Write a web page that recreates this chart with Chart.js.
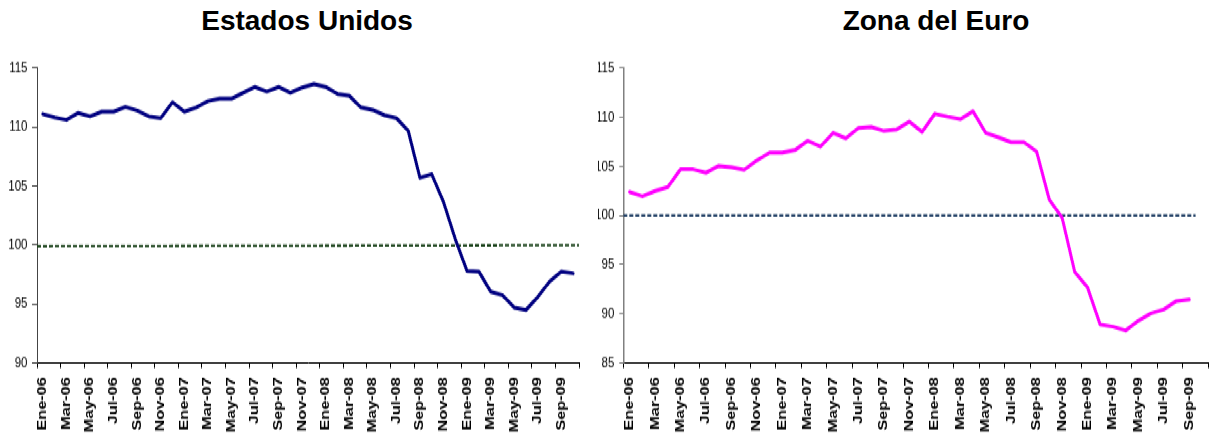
<!DOCTYPE html>
<html>
<head>
<meta charset="utf-8">
<script src="https://cdn.jsdelivr.net/npm/chart.js@4/dist/chart.umd.min.js"></script>
<style>
  html, body { margin: 0; padding: 0; background: #fff; overflow: hidden; }
  body { width: 1210px; height: 435px; position: relative; }
  .title {
    position: absolute; top: 5px; width: 400px; text-align: center;
    font: bold 28px "Liberation Sans", Arial, sans-serif; line-height: 32px; color: #000;
  }
  #stretch {
    position: absolute; left: 0; top: 45px; width: 1210px; height: 300px;
    transform: scaleY(1.3); transform-origin: 0 0;
  }
  canvas { position: absolute; top: 0; }
</style>
</head>
<body>
<div class="title" style="left:107px">Estados Unidos</div>
<div class="title" style="left:736px">Zona del Euro</div>
<div id="stretch">
  <canvas id="us" width="598" height="300" style="left:0"></canvas>
  <canvas id="eu" width="612" height="300" style="left:598px"></canvas>
</div>
<script>
// Monthly categories, Jan-2006 .. Oct-2009 (labelled every second month)
const months = ['Ene','Feb','Mar','Abr','May','Jun','Jul','Ago','Sep','Oct','Nov','Dic'];
const years = ['06','07','08','09'];
const categories = [];
years.forEach(y => months.forEach(m => categories.push(m + '-' + y)));
categories.length = 46;

// Index values
const usValues = [
  111.1, 110.8, 110.6, 111.2, 110.9, 111.3, 111.3, 111.7, 111.4, 110.9,
  110.75, 112.1, 111.3, 111.65, 112.2, 112.4, 112.4, 112.9, 113.4, 113.0,
  113.4, 112.9, 113.35, 113.65, 113.4, 112.8, 112.65, 111.65, 111.45, 111.0,
  110.75, 109.7, 105.7, 106.0, 103.65, 100.5, 97.8, 97.75, 96.05, 95.75,
  94.7, 94.5, 95.6, 96.9, 97.75, 97.6
];
const euValues = [
  102.4, 101.95, 102.5, 102.9, 104.7, 104.7, 104.35, 105.05, 104.9, 104.65,
  105.6, 106.4, 106.4, 106.65, 107.6, 107.0, 108.4, 107.85, 108.9, 109.0,
  108.6, 108.75, 109.55, 108.5, 110.35, 110.05, 109.8, 110.6, 108.4, 107.95,
  107.45, 107.45, 106.5, 101.6, 99.8, 94.25, 92.7, 88.9, 88.7, 88.3,
  89.3, 90.05, 90.45, 91.3, 91.45, null
];

// Base-100 reference lines, given as [start, end] over the category span
const usBaseStart = 0, usBaseEnd = 46;
const usBaseValues = [99.9, 100.0];
const euBaseStart = 0, euBaseEnd = 45;
const euBaseValues = [100.0, 100.0];

// Y-axis ranges
const usRange = { min: 90, max: 115, step: 5 };
const euRange = { min: 85, max: 115, step: 5 };

Chart.defaults.font.family = '"Liberation Sans", Arial, sans-serif';
Chart.defaults.color = '#000';

function makeChart(id, cfg) {
  const everyOther = ctx => (ctx.index === undefined || ctx.index % 2 === 0) ? '#000' : 'rgba(0,0,0,0)';
  return new Chart(document.getElementById(id), {
    type: 'line',
    data: {
      labels: categories,
      datasets: [
        {
          data: cfg.values,
          borderColor: cfg.color,
          borderWidth: 3,
          borderJoinStyle: 'round',
          borderCapStyle: 'round',
          pointRadius: 0,
          tension: 0,
          fill: false,
          xAxisID: 'x', yAxisID: 'y'
        },
        {
          data: [{ x: cfg.baseStart, y: cfg.baseValues[0] }, { x: cfg.baseEnd, y: cfg.baseValues[1] }],
          borderColor: cfg.baseColor,
          borderWidth: 1.8,
          borderDash: [4, 2],
          pointRadius: 0,
          fill: false,
          xAxisID: 'xr', yAxisID: 'y'
        }
      ]
    },
    options: {
      responsive: false,
      maintainAspectRatio: false,
      animation: false,
      devicePixelRatio: 1,
      layout: { padding: { top: 17.7, bottom: 0, left: 0, right: cfg.padRight } },
      plugins: { legend: { display: false }, tooltip: { enabled: false }, title: { display: false } },
      scales: {
        x: {
          type: 'category',
          offset: true,
          grid: {
            offset: true, drawOnChartArea: false, drawTicks: true, tickLength: 4,
            color: everyOther, tickColor: everyOther
          },
          border: { display: true, color: '#000', width: 1 },
          ticks: {
            autoSkip: false, minRotation: 90, maxRotation: 90, padding: 7,
            font: { size: 12.5, weight: 'bold' },
            callback: (v, i) => (i % 2 === 0 ? categories[i] : '')
          },
          afterFit: s => { s.height = 55.4; s.paddingLeft = 0; s.paddingRight = 0; }
        },
        xr: { type: 'linear', display: false, min: 0, max: 46 },
        y: {
          min: cfg.range.min, max: cfg.range.max,
          grid: { drawOnChartArea: false, drawTicks: true, tickLength: cfg.tickLen, color: cfg.axisColor },
          border: { display: true, color: cfg.axisColor, width: cfg.axisWidth },
          ticks: { stepSize: cfg.range.step, padding: cfg.tickPad, font: { size: 11.5 } },
          afterFit: s => { s.width = cfg.yWidth; s.paddingTop = 0; s.paddingBottom = 0; }
        }
      }
    }
  });
}

makeChart('us', {
  values: usValues, color: '#000080',
  baseStart: usBaseStart, baseEnd: usBaseEnd, baseValues: usBaseValues, baseColor: '#173f17',
  range: usRange, yWidth: 37, padRight: 19, tickLen: 5, tickPad: 4.5,
  axisColor: '#444', axisWidth: 1
});
makeChart('eu', {
  values: euValues, color: '#ff00ff',
  baseStart: euBaseStart, baseEnd: euBaseEnd, baseValues: euBaseValues, baseColor: '#17375e',
  range: euRange, yWidth: 25.3, padRight: 1.7, tickLen: 4, tickPad: 5,
  axisColor: '#808080', axisWidth: 1.5
});
</script>
</body>
</html>
